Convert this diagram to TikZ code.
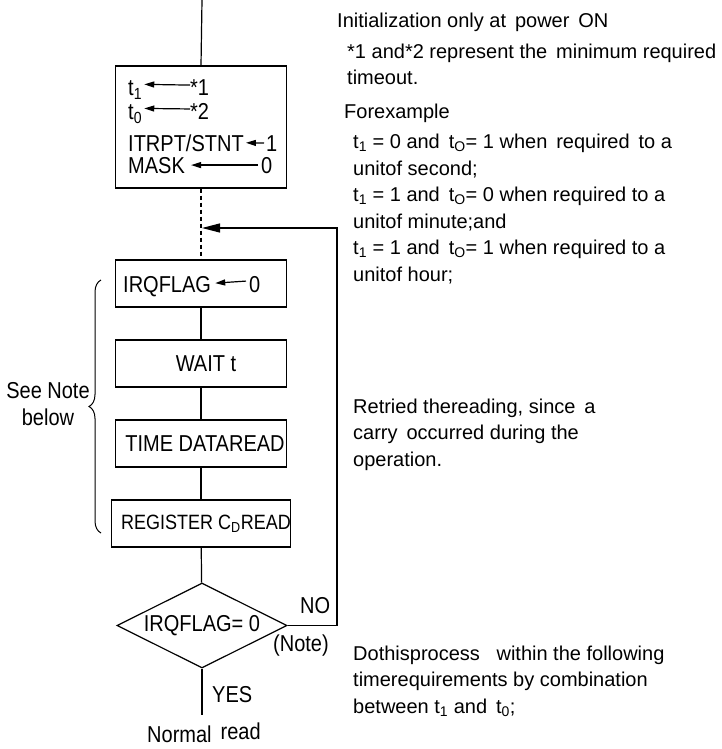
\documentclass[tikz,border=0pt]{standalone}
\usepackage{fontspec}
\setmainfont{Liberation Sans}
\usetikzlibrary{arrows.meta, shapes.geometric, decorations.pathreplacing}
\newcommand\fs{\fontsize{20}{26.5}\selectfont}
\newcommand\tall[1]{\scalebox{1}[1.15]{#1}}

\begin{document}
\begin{tikzpicture}[x=1pt, y=-1pt,
      box/.style={draw, line width=1.2pt, minimum width=171pt,
        minimum height=47pt, inner sep=0pt, font=\fs},
      txt/.style={inner sep=0pt, font=\fs},
      note/.style={inner sep=0pt, font=\fs, align=left, anchor=base west},
      flow/.style={line width=1.2pt},
      arr/.style={line width=1.2pt, -{Triangle[length=10pt, width=6pt]}},
      >=Triangle
    ]
      \useasboundingbox (0,0) rectangle (722,749);
      % flowchart
      \coordinate (top) at (202,0);
      \node[box, minimum height=122pt] (init) at (201,127) {};
      \node[box] (irq) at (201,283.5) {};
      \node[box] (wait) at (201,363.5) {\hspace*{10pt}\tall{WAIT t}};
      \node[box] (data) at (201,443.5) {\hspace*{8pt}\tall{TIME DATAREAD}};
      \node[box] (creg) at (201,523.5)
        {\hspace*{10pt}\tall{\fontsize{18}{20}\selectfont REGISTER C\textsubscript{D}READ}};
      \node[draw, diamond, line width=1.2pt, aspect=2, inner sep=0pt,
        minimum width=170pt, minimum height=85pt, font=\fs] (check) at (202,625.5)
        {\tall{IRQFLAG= 0}};

      % initial settings
      \node[txt, anchor=base west] (tone) at (128,96) {\tall{t\textsubscript{1}}};
      \node[txt, anchor=base west] (sone) at (190,96) {\tall{*1}};
      \node[txt, anchor=base west] (tzero) at (128,120) {\tall{t\textsubscript{0}}};
      \node[txt, anchor=base west] (stwo) at (190,120) {\tall{*2}};
      \node[txt, anchor=base west] (itrpt) at (128,151) {\tall{ITRPT/STNT}};
      \node[txt, anchor=base west] (ione) at (266,151) {\tall{1}};
      \node[txt, anchor=base west] (mask) at (128,173) {\tall{MASK}};
      \node[txt, anchor=base west] (mzero) at (261,173) {\tall{0}};
      \draw[arr] ([yshift=3pt]sone.west) -- ([xshift=2pt, yshift=6pt]tone.east);
      \draw[arr] ([yshift=3pt]stwo.west) -- ([xshift=2pt, yshift=6pt]tzero.east);
      \draw[arr] ([xshift=-2pt]ione.west) -- ([xshift=2pt]itrpt.east);
      \draw[arr] ([xshift=-3pt]mzero.west) -- ([xshift=6pt]mask.east);
      \node[txt, anchor=base west] (flag) at (123,292) {\tall{IRQFLAG}};
      \node[txt, anchor=base west] (fzero) at (249,292) {\tall{0}};
      \draw[arr] ([xshift=-3pt, yshift=3pt]fzero.west) -- ([xshift=4pt, yshift=3pt]flag.east);

      \draw[flow] (top) -- (init.north);
      \draw[flow, dash pattern=on 4pt off 3pt] (init.south) -- (irq.north);
      \draw[flow] (irq) -- (wait);
      \draw[flow] (wait) -- (data);
      \draw[flow] (data) -- (creg);
      \draw[flow] (creg) -- (check);

      % retry loop
      \coordinate (entry) at (202,228);
      \coordinate (loop) at (337,228);
      \draw[line width=1.2pt, -{Triangle[length=18pt, width=9pt]}]
        (check.east) -| (loop) -- (entry);
      \node[txt, anchor=base west] (no) at (300,613) {\tall{NO}};
      \node[txt, anchor=base west] (yes) at (212,702) {\tall{YES}};
      \node[txt, anchor=base west] (notetag) at (273,651) {\tall{(Note)}};
      \node[txt, anchor=base west] (normal) at (147,742)
        {\tall{Normal}\hspace{9pt}\raisebox{3pt}{\tall{read}}};
      \draw[flow] (check.south) -- ([yshift=7pt]check.south |- normal.north);

      % brace
      \draw[line width=1pt, decorate, decoration={brace, amplitude=12pt}]
        (101,533) -- (101,280);
      \node[txt] (seenote) at (48,406)
        {\tall{\begin{tabular}{@{}c@{}}See Note\\[-3pt]below\end{tabular}}};

      % notes on the right (base = last line)
      \node[note] (power) at (337,28) {Initialization only at\, power\, ON};
      \node[note] (minreq) at (347,85)
        {*1 and*2 represent the\, minimum required\\timeout.};
      \node[note] (example) at (344,118) {Forexample};
      \node[note] (units) at (353,281)
        {t\textsubscript{1} = 0 and\, t\textsubscript{O}= 1 when\, required\, to a\\
         unitof second;\\
         t\textsubscript{1} = 1 and\, t\textsubscript{O}= 0 when required to a\\
         unitof minute;and\\
         t\textsubscript{1} = 1 and\, t\textsubscript{O}= 1 when required to a\\
         unitof hour;};
      \node[note] (retry) at (353,466)
        {Retried thereading, since\, a\\carry\, occurred during the\\operation.};
      \node[note] (dothis) at (353,713)
        {Dothisprocess\;\; within the following\\
         timerequirements by combination\\
         between t\textsubscript{1} and\, t\textsubscript{0};};
\end{tikzpicture}
\end{document}
